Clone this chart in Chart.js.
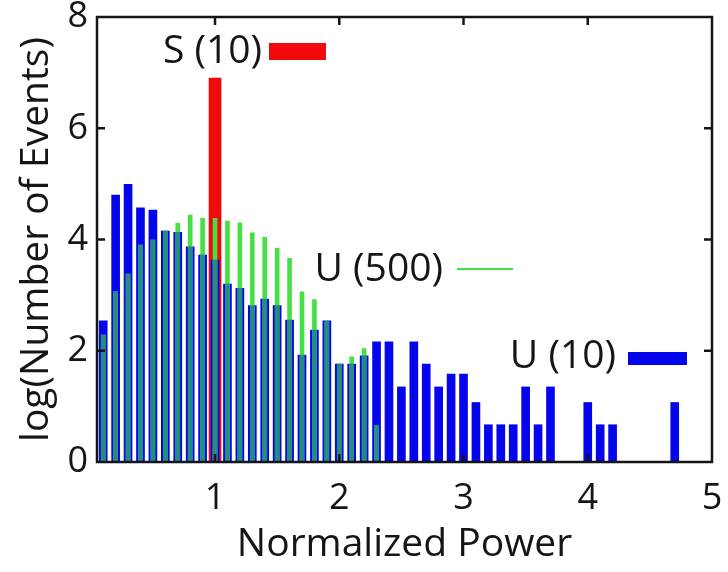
<!DOCTYPE html>
<html>
<head>
<meta charset="utf-8">
<script src="https://cdn.jsdelivr.net/npm/chart.js@4.4.1/dist/chart.umd.min.js"></script>
<style>
  html, body { margin: 0; padding: 0; background: #fff; }
  #chart { display: block; }
</style>
</head>
<body>
<canvas id="chart" width="728" height="572"></canvas>
<script>
// histogram bins (normalized power)
const bins = [0.1, 0.2, 0.3, 0.4, 0.5, 0.6, 0.7, 0.8, 0.9, 1.0,
              1.1, 1.2, 1.3, 1.4, 1.5, 1.6, 1.7, 1.8, 1.9, 2.0,
              2.1, 2.2, 2.3, 2.4, 2.5, 2.6, 2.7, 2.8, 2.9, 3.0,
              3.1, 3.2, 3.3, 3.4, 3.5, 3.6, 3.7, 3.8, 3.9, 4.0,
              4.1, 4.2, 4.3, 4.4, 4.5, 4.6, 4.7];

// log(number of events) per bin
const u10Counts = [2.54, 4.80, 4.99, 4.57, 4.53, 4.15, 4.13, 3.87, 3.72, 3.63,
                   3.20, 3.12, 2.81, 2.93, 2.81, 2.55, 1.92, 2.37, 2.54, 1.76,
                   1.76, 1.91, 2.16, 2.16, 1.35, 2.16, 1.76, 1.35, 1.58, 1.58,
                   1.07, 0.67, 0.67, 0.67, 1.35, 0.67, 1.35, null, null, 1.07,
                   0.67, 0.67, null, null, null, null, 1.07];
const u500Counts = [2.28, 3.06, 3.38, 3.90, 3.99, 4.15, 4.29, 4.44, 4.38, 4.38,
                    4.33, 4.30, 4.12, 4.04, 3.84, 3.66, 3.06, 2.92, 2.52, 1.76,
                    1.89, 2.04, 0.66];
const s10Bins = [1.0];
const s10Counts = [6.9];

const xTicks = [1, 2, 3, 4, 5];
const yTicks = [0, 2, 4, 6, 8];

const toPoints = (xs, ys) =>
  ys.map((y, i) => ({ x: xs[i], y })).filter(p => p.y !== null);

// where U(500) and U(10) overlap the colours mix
const overlapCounts = u500Counts.map((v, i) =>
  u10Counts[i] === null ? null : Math.min(v, u10Counts[i]));

const FONT = "'Open Sans', 'DejaVu Sans', sans-serif";
const INK = '#151515';
const BLUE = '#0505ec';
const GREEN = '#46e046';

// gnuplot-like box with inward ticks
const framePlugin = {
  id: 'frame',
  afterDatasetsDraw(chart) {
    const { ctx, chartArea: a, scales: { x, y } } = chart;
    ctx.save();
    ctx.strokeStyle = INK;
    ctx.lineWidth = 2.5;
    ctx.strokeRect(a.left, a.top, a.right - a.left, a.bottom - a.top);
    ctx.beginPath();
    xTicks.slice(0, -1).forEach(v => {
      const px = x.getPixelForValue(v);
      ctx.moveTo(px, a.bottom); ctx.lineTo(px, a.bottom - 8);
      ctx.moveTo(px, a.top); ctx.lineTo(px, a.top + 8);
    });
    yTicks.slice(1, -1).forEach(v => {
      const py = y.getPixelForValue(v);
      ctx.moveTo(a.left, py); ctx.lineTo(a.left + 8, py);
      ctx.moveTo(a.right, py); ctx.lineTo(a.right - 8, py);
    });
    ctx.stroke();
    ctx.restore();
  }
};

// keys placed inside the plot like the original
const keyPlugin = {
  id: 'keys',
  afterDraw(chart) {
    const { ctx } = chart;
    ctx.save();
    ctx.font = '39px ' + FONT;
    ctx.fillStyle = INK;
    ctx.textAlign = 'right';
    ctx.textBaseline = 'middle';
    ctx.fillText('S (10)', 262, 52);
    ctx.fillText('U (500)', 443, 270);
    ctx.fillText('U (10)', 616, 357);
    ctx.fillStyle = '#f00a0a';
    ctx.fillRect(269, 43, 57, 17);
    ctx.fillStyle = BLUE;
    ctx.fillRect(628, 352, 59, 13);
    ctx.strokeStyle = GREEN;
    ctx.lineWidth = 2;
    ctx.beginPath();
    ctx.moveTo(457, 269); ctx.lineTo(513, 269);
    ctx.stroke();
    ctx.restore();
  }
};

new Chart(document.getElementById('chart'), {
  type: 'bar',
  data: {
    datasets: [
      {
        label: 'overlap',
        data: toPoints(bins, overlapCounts),
        backgroundColor: 'rgb(36, 140, 128)',
        barThickness: 4,
        grouped: false,
        order: 0
      },
      {
        label: 'U (500)',
        data: toPoints(bins, u500Counts),
        backgroundColor: GREEN,
        barThickness: 4,
        grouped: false,
        order: 1
      },
      {
        label: 'U (10)',
        data: toPoints(bins, u10Counts),
        backgroundColor: BLUE,
        barThickness: 8,
        grouped: false,
        order: 2
      },
      {
        label: 'S (10)',
        data: toPoints(s10Bins, s10Counts),
        backgroundColor: '#f00a0a',
        barThickness: 12,
        grouped: false,
        order: 3
      }
    ]
  },
  options: {
    responsive: false,
    animation: false,
    layout: { padding: { left: 0, right: 16, top: 17, bottom: 0 } },
    plugins: {
      legend: { display: false },
      tooltip: { enabled: false }
    },
    scales: {
      x: {
        type: 'linear',
        min: 0.05,
        max: 5,
        offset: false,
        grid: { display: false, drawTicks: false },
        border: { display: false },
        afterBuildTicks: s => { s.ticks = xTicks.map(v => ({ value: v })); },
        afterFit: s => { s.height = 110; s.paddingLeft = 0; s.paddingRight = 0; },
        ticks: {
          color: INK,
          padding: 15,
          maxRotation: 0,
          font: { family: FONT, size: 36 }
        },
        title: {
          display: true,
          text: 'Normalized Power',
          color: INK,
          padding: { top: 0, bottom: 4 },
          font: { family: FONT, size: 39 }
        }
      },
      y: {
        min: 0,
        max: 8,
        grid: { display: false, drawTicks: false },
        border: { display: false },
        afterBuildTicks: s => { s.ticks = yTicks.map(v => ({ value: v })); },
        afterFit: s => { s.width = 97; s.paddingTop = 0; s.paddingBottom = 0; },
        ticks: {
          color: INK,
          padding: 9,
          font: { family: FONT, size: 36 }
        },
        title: {
          display: true,
          text: 'log(Number of Events)',
          color: INK,
          padding: { top: 13, bottom: 0 },
          font: { family: FONT, size: 39 }
        }
      }
    }
  },
  plugins: [framePlugin, keyPlugin]
});
</script>
</body>
</html>
